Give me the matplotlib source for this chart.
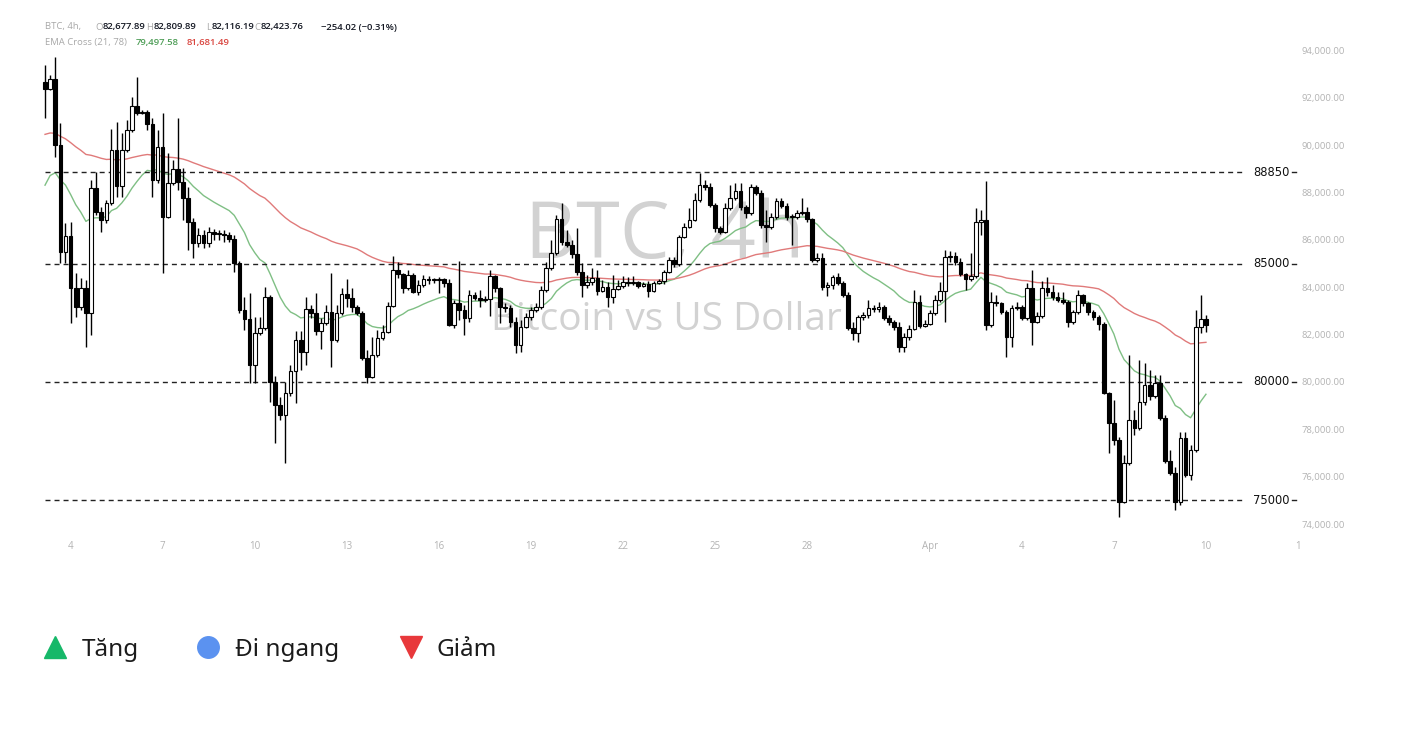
import matplotlib
matplotlib.use("Agg")
import matplotlib.pyplot as plt
import numpy as np
import pandas as pd

# ---------------- data (BTC/USD, 4h candles) ----------------
START = "2025-03-03 04:00"

OPEN = [92660, 92360, 92790, 90000, 85480, 86160, 83970, 83170, 83970, 82910,
        88190, 87170, 86840, 87550, 89790, 88270, 89790, 90630, 91650, 91350,
        91400, 90890, 88520, 89920, 86960, 88400, 88990, 88440, 87770, 86750,
        85870, 86200, 85870, 86330, 86250, 86250, 86200, 86030, 85020, 83040,
        82660, 80720, 82070, 82280, 83590, 80000, 79030, 78610, 79540, 80460,
        81770, 81270, 83080, 82910, 82150, 82490, 82950, 81770, 82910, 83710,
        83540, 83170, 82910, 81010, 80210, 81140, 81860, 82110, 83210, 84730,
        84560, 83970, 84520, 83800, 84090, 84350, 84300, 84300, 84350, 84180,
        82400, 83330, 83040, 82700, 83670, 83540, 83460, 83500, 84470, 83970,
        83170, 83120, 82530, 81560, 82320, 82740, 83040, 83170, 83880, 84810,
        85440, 86880, 85910, 85780, 85420, 84640, 84090, 84220, 84390, 83840,
        84010, 83590, 83920, 84050, 84220, 84180, 84220, 84050, 84130, 83840,
        84180, 84260, 84640, 85150, 84980, 86120, 86540, 86840, 87680, 88310,
        88230, 87470, 86500, 86330, 87340, 87770, 88060, 87390, 87130, 88230,
        87980, 86630, 86540, 86960, 87640, 87430, 86960, 86960, 87130, 87170,
        86880, 85150, 85230, 84010, 84090, 84430, 84180, 83670, 82280, 82070,
        82740, 82830, 83120, 83080, 83170, 82700, 82530, 82320, 81480, 81900,
        82240, 83380, 82360, 82450, 82910, 83460, 83840, 85270, 85320, 85060,
        84560, 84350, 84470, 86750, 86840, 82400, 83380, 83330, 82950, 81900,
        83120, 83170, 82700, 83970, 82530, 82790, 83970, 83800, 83590, 83460,
        83380, 82530, 82950, 83670, 83330, 82950, 82740, 82450, 79540, 78270,
        77550, 74940, 76580, 78400, 78060, 79160, 79870, 79410, 79960, 78480,
        76670, 76160, 74940, 77640, 76070, 77130, 82320, 82677.89]

HIGH = [93380, 92970, 93710, 90930, 86710, 86750, 84600, 84390, 84300, 88520,
        88860, 87380, 87680, 90680, 90970, 90510, 91060, 92030, 92870, 91480,
        91480, 91140, 90630, 91350, 89660, 89370, 91140, 89030, 88230, 86920,
        86500, 86410, 86540, 86460, 86410, 86410, 86330, 86200, 85100, 83590,
        83760, 82740, 82740, 84010, 83670, 80250, 79370, 80000, 80720, 82150,
        82150, 83590, 83250, 83760, 82700, 83250, 84600, 83250, 83970, 84350,
        83970, 83250, 82990, 81350, 81900, 82190, 82410, 83380, 85320, 85060,
        84600, 84730, 84600, 84300, 84520, 84470, 84390, 84430, 84390, 84350,
        83460, 85100, 83250, 83880, 83800, 83880, 83630, 84730, 84520, 84010,
        83330, 83250, 82740, 82620, 82910, 83170, 83330, 84050, 85060, 85990,
        87050, 87550, 86410, 85990, 86500, 85020, 84520, 84810, 84730, 84300,
        84220, 84520, 84300, 84470, 84430, 84470, 84260, 84220, 84260, 84260,
        84350, 84730, 85270, 85270, 86200, 86710, 87340, 87980, 88820, 88520,
        88400, 87550, 86580, 87550, 88310, 88400, 88400, 87470, 88360, 88310,
        88100, 87260, 87130, 87770, 87770, 87550, 87090, 87260, 87770, 87380,
        86940, 85440, 85440, 84220, 84520, 84600, 84260, 83800, 82530, 82830,
        82950, 83460, 83250, 83380, 83250, 82830, 82620, 82530, 82070, 82410,
        83880, 83670, 82620, 83040, 83670, 84220, 85570, 85530, 85490, 85230,
        84620, 85440, 87340, 87260, 88480, 83800, 83670, 83380, 83040, 83250,
        83380, 83250, 84180, 84730, 82950, 84260, 84430, 84090, 83800, 83800,
        83460, 83040, 83880, 83710, 83380, 83040, 82830, 82530, 79580, 79240,
        77680, 76920, 81140, 78820, 80930, 80800, 80510, 80300, 80300, 78610,
        77130, 76410, 77890, 77890, 77340, 83040, 83670, 82809.89]

LOW = [91140, 92340, 89490, 85020, 85020, 82490, 82740, 83040, 81480, 81980,
       87050, 86330, 86710, 87470, 87810, 87810, 89710, 90550, 91270, 91310,
       90630, 87810, 88400, 84600, 86920, 88310, 88100, 86840, 85570, 85230,
       85700, 85650, 85700, 85990, 85990, 85910, 85910, 84640, 82910, 82190,
       79960, 79960, 81980, 82190, 79160, 77430, 78400, 76580, 79400, 79110,
       80510, 80720, 82700, 81980, 81390, 82410, 80630, 81690, 82830, 83170,
       82950, 82830, 80930, 79960, 80170, 81050, 81770, 82050, 83150, 84390,
       83760, 83880, 83760, 83670, 84010, 84130, 84180, 83760, 84010, 82360,
       82280, 82620, 81980, 82530, 83460, 83170, 83380, 82790, 83800, 82490,
       82950, 82320, 81220, 81270, 82280, 82620, 82950, 83080, 83800, 84730,
       85360, 85780, 85700, 85230, 84520, 83590, 83970, 84090, 83670, 83800,
       83170, 83330, 83880, 83970, 84050, 84090, 83970, 84010, 83590, 83800,
       84130, 84130, 84600, 84850, 84890, 86080, 86500, 86790, 87600, 88100,
       87390, 86330, 86250, 86290, 87260, 87680, 87260, 86920, 87050, 87890,
       86500, 85910, 86460, 86880, 87340, 86840, 85780, 86880, 87050, 86750,
       85060, 85060, 83880, 83630, 83920, 84090, 83590, 82190, 81770, 81690,
       82620, 82700, 82950, 82950, 82620, 82410, 82190, 81270, 81270, 81770,
       82190, 82280, 82320, 82410, 82830, 83380, 82530, 85060, 84940, 84470,
       83880, 84260, 84390, 86200, 82190, 82320, 83210, 82870, 81050, 81480,
       83040, 82620, 82620, 81560, 82490, 82700, 83630, 83460, 83380, 83290,
       82320, 82450, 82870, 83210, 82830, 82620, 82190, 79490, 77000, 77340,
       74300, 74890, 76500, 77760, 77970, 79030, 79240, 79330, 78400, 76580,
       76080, 74600, 74810, 75990, 75860, 77050, 82070, 82116.19]

CLOSE = [92360, 92790, 90000, 85480, 86160, 83970, 83170, 83970, 82910, 88190,
         87170, 86840, 87550, 89790, 88270, 89790, 90630, 91650, 91350, 91400,
         90890, 88520, 89920, 86960, 88400, 88990, 88440, 87770, 86750, 85870,
         86200, 85870, 86330, 86250, 86250, 86200, 86030, 85020, 83040, 82660,
         80720, 82070, 82280, 83590, 80000, 79030, 78610, 79540, 80460, 81770,
         81270, 83080, 82910, 82150, 82490, 82950, 81770, 82910, 83710, 83540,
         83170, 82910, 81010, 80210, 81140, 81860, 82110, 83210, 84730, 84560,
         83970, 84520, 83800, 84090, 84350, 84300, 84300, 84350, 84180, 82400,
         83330, 83040, 82700, 83670, 83540, 83460, 83500, 84470, 83970, 83170,
         83120, 82530, 81560, 82320, 82740, 83040, 83170, 83880, 84810, 85440,
         86880, 85910, 85780, 85420, 84640, 84090, 84220, 84390, 83840, 84010,
         83590, 83920, 84050, 84220, 84180, 84220, 84050, 84130, 83840, 84180,
         84260, 84640, 85150, 84980, 86120, 86540, 86840, 87680, 88310, 88230,
         87470, 86500, 86330, 87340, 87770, 88060, 87390, 87130, 88230, 87980,
         86630, 86540, 86960, 87640, 87430, 86960, 86960, 87130, 87170, 86880,
         85150, 85230, 84010, 84090, 84430, 84180, 83670, 82280, 82070, 82740,
         82830, 83120, 83080, 83170, 82700, 82530, 82320, 81480, 81900, 82240,
         83380, 82360, 82450, 82910, 83460, 83840, 85270, 85320, 85060, 84560,
         84350, 84470, 86750, 86840, 82400, 83380, 83330, 82950, 81900, 83120,
         83170, 82700, 83970, 82530, 82790, 83970, 83800, 83590, 83460, 83380,
         82530, 82950, 83670, 83330, 82950, 82740, 82450, 79540, 78270, 77550,
         74940, 76580, 78400, 78060, 79160, 79870, 79410, 79960, 78480, 76670,
         76160, 74940, 77640, 76070, 77130, 82320, 82677.78, 82423.76]

# EMA values at the left edge of the chart
EMA_FAST, EMA_SLOW = 21, 78
EMA_FAST_START, EMA_SLOW_START = 87900, 90400
EMA_FAST_LAST_TXT, EMA_SLOW_LAST_TXT = "79,497.58", "81,681.49"

LEVELS = [88850, 85000, 80000, 75000]
LEVEL_LABELS = ["88850", "85000", "80000", "75000"]

PRICE_TICKS = list(range(74000, 94001, 2000))
DAY_TICK_DATES = ["2025-03-04", "2025-03-07", "2025-03-10", "2025-03-13", "2025-03-16",
                  "2025-03-19", "2025-03-22", "2025-03-25", "2025-03-28", "2025-04-01",
                  "2025-04-04", "2025-04-07", "2025-04-10", "2025-04-13"]
DAY_TICK_LABELS = ["4", "7", "10", "13", "16", "19", "22", "25", "28", "Apr",
                   "4", "7", "10", "1"]

LEGEND_LABELS = ["Tăng", "Đi ngang", "Giảm"]

# ---------------- derived ----------------
O = np.array(OPEN, float); H = np.array(HIGH, float)
L = np.array(LOW, float); C = np.array(CLOSE, float)
idx = np.arange(len(C))
start = pd.Timestamp(START)
tick_pos = [(pd.Timestamp(d) - start) / pd.Timedelta(hours=4) for d in DAY_TICK_DATES]


def ema(values, span, seed):
    a = 2.0 / (span + 1)
    out, prev = [], seed
    for v in values:
        prev = a * v + (1 - a) * prev
        out.append(prev)
    return np.array(out)


ema_fast = ema(C, EMA_FAST, EMA_FAST_START)
ema_slow = ema(C, EMA_SLOW, EMA_SLOW_START)

# ---------------- figure ----------------
WPX, HPX = 1402, 733
fig = plt.figure(figsize=(WPX / 100, HPX / 100), dpi=100)
fig.patch.set_facecolor("white")

ax_l, ax_r, ax_t, ax_b = 40, 1298, 40, 535
ax = fig.add_axes([ax_l / WPX, 1 - ax_b / HPX, (ax_r - ax_l) / WPX, (ax_b - ax_t) / HPX])
ax.set_xlim(-0.98, 244.87)
ax.set_ylim(73543, 94432)
for s in ax.spines.values():
    s.set_visible(False)

# watermark
ax.text(0.497, 0.60, "BTC, 4h", transform=ax.transAxes, ha="center", va="center",
        fontsize=57, color="#d2d2d2", family="Open Sans", zorder=0)
ax.text(0.498, 0.434, "Bitcoin vs US Dollar", transform=ax.transAxes, ha="center",
        va="center", fontsize=28, color="#d2d2d2", family="Open Sans", zorder=0)

# EMA lines
ax.plot(idx, ema_fast, color="#7fbf84", lw=1.0, zorder=2)
ax.plot(idx, ema_slow, color="#e07a7a", lw=1.0, zorder=2)

# horizontal levels
xmax_frac = (1243 - ax_l) / (ax_r - ax_l)
for lvl, lab in zip(LEVELS, LEVEL_LABELS):
    ax.axhline(lvl, xmin=0.004, xmax=xmax_frac, color="#222222", lw=1.0,
               ls=(0, (3.6, 2.9)), zorder=2.5)
    ax.text((1253 - ax_l) / (ax_r - ax_l), lvl, lab, transform=ax.get_yaxis_transform(),
            ha="left", va="center", fontsize=8.3, color="#111111", family="DejaVu Sans")
    ax.axhline(lvl, xmin=(1292 - ax_l) / (ax_r - ax_l), xmax=(1296 - ax_l) / (ax_r - ax_l),
               color="#222222", lw=1.0)

# candles
up = C >= O
lo = np.minimum(L, np.minimum(O, C))
hi = np.maximum(H, np.maximum(O, C))
ax.vlines(idx, lo, hi, color="black", lw=1.0, zorder=3)
bottom = np.minimum(O, C)
height = np.maximum(np.abs(C - O), 35)
ax.bar(idx[up], height[up], bottom=bottom[up], width=0.72, color="white",
       edgecolor="black", linewidth=0.8, zorder=4)
ax.bar(idx[~up], height[~up], bottom=bottom[~up], width=0.72, color="black",
       edgecolor="black", linewidth=0.8, zorder=4)

# axes ticks
ax.yaxis.tick_right()
ax.set_yticks(PRICE_TICKS)
ax.set_yticklabels([f"{v:,.2f}" for v in PRICE_TICKS])
ax.tick_params(axis="y", length=0, pad=2.5, labelsize=6.8, labelcolor="#b3b3b3")
ax.set_xticks(tick_pos)
ax.set_xticklabels(DAY_TICK_LABELS)
ax.tick_params(axis="x", length=0, pad=4, labelsize=7, labelcolor="#b3b3b3")
for lab in ax.get_xticklabels() + ax.get_yticklabels():
    lab.set_family("Open Sans")

# header (status line)
prev_close = C[-2]
chg = C[-1] - prev_close
pct = chg / prev_close * 100
renderer = fig.canvas.get_renderer()


def fx(px):
    return px / WPX


def fy(py):
    return 1 - py / HPX


grey = "#a8a8a8"
dark = "#131722"
hs = 6.8


def label_value(x, y, label, value, vcolor):
    t = fig.text(fx(x), fy(y), label, color=grey, fontsize=hs, family="Open Sans",
                 ha="left", va="center")
    x2 = x
    if label:
        x2 = x + t.get_window_extent(renderer).width + 0.5
    fig.text(fx(x2), fy(y), value, color=vcolor, fontsize=hs, fontweight="semibold",
             family="Open Sans", ha="left", va="center")


fig.text(fx(45), fy(27), "BTC, 4h,", color=grey, fontsize=hs, family="Open Sans",
         ha="left", va="center")
label_value(95, 27, "O", f"{O[-1]:,.2f}", dark)
label_value(146, 27, "H", f"{H[-1]:,.2f}", dark)
label_value(206, 27, "L", f"{L[-1]:,.2f}", dark)
label_value(254, 27, "C", f"{C[-1]:,.2f}", dark)
fig.text(fx(321), fy(27), f"{chg:+,.2f} ({pct:+.2f}%)".replace("-", "\u2212"), color=dark,
         fontsize=hs, fontweight="semibold", family="Open Sans", ha="left", va="center")

fig.text(fx(45), fy(42), f"EMA Cross ({EMA_FAST}, {EMA_SLOW})", color=grey, fontsize=hs,
         family="Open Sans", ha="left", va="center")
fig.text(fx(136), fy(42), EMA_FAST_LAST_TXT, color="#4f9e58", fontsize=hs,
         fontweight="semibold", family="Open Sans", ha="left", va="center")
fig.text(fx(187), fy(42), EMA_SLOW_LAST_TXT, color="#d9453f", fontsize=hs,
         fontweight="semibold", family="Open Sans", ha="left", va="center")

# legend
lg = fig.add_axes([0, 0, 1, 1], facecolor="none")
lg.set_xlim(0, WPX); lg.set_ylim(HPX, 0); lg.axis("off")
lg.plot([55], [647], marker="^", ms=16.5, color="#16b869", ls="none")
lg.plot([208], [647], marker="o", ms=15.5, color="#5b92f0", ls="none")
lg.plot([411], [647], marker="v", ms=16.5, color="#e8383b", ls="none")
for x, s in zip([82, 235, 437], LEGEND_LABELS):
    lg.text(x, 656, s, fontsize=17.5, family="Noto Sans", color="#1b1b1b",
            ha="left", va="baseline")

fig.savefig("out.png", dpi=100)
